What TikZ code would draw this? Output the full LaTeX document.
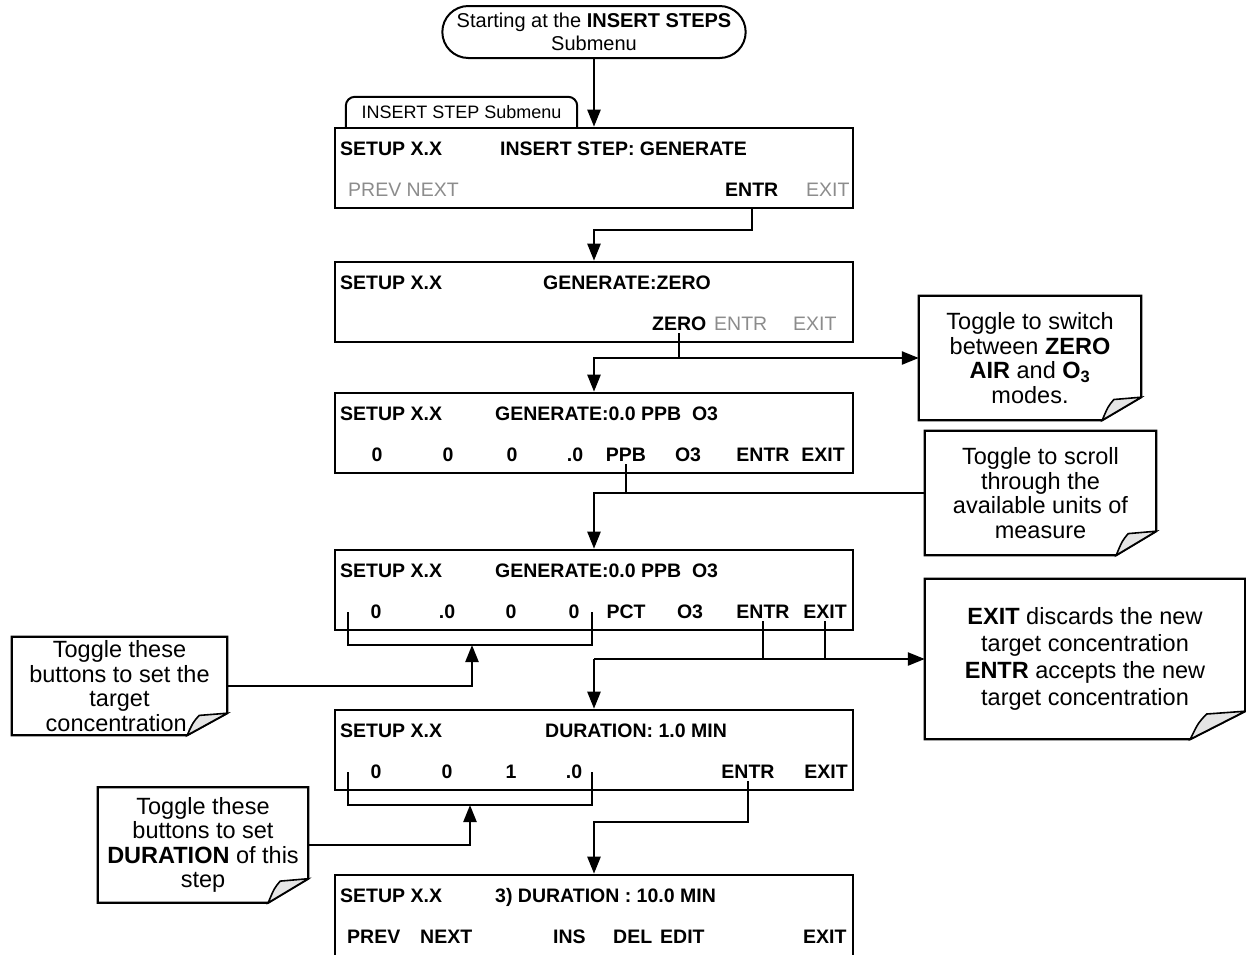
\documentclass[tikz,border=0pt]{standalone}
\usepackage{fontspec}
\setmainfont{Liberation Sans}
\usepackage{tikz}
\usetikzlibrary{arrows.meta,calc,shapes.misc}
\definecolor{keygray}{RGB}{140,140,140}
\newcommand{\boxfont}{\fontsize{19.5}{22}\selectfont}
\newcommand{\notefont}{\fontsize{23.5}{24.5}\selectfont}
\newcommand{\gensetup}{GENERATE:0.0 PPB\ \ O3}

\begin{document}
\begin{tikzpicture}[x=1pt,y=-1pt,
		screen/.style={draw,line width=2.6pt,minimum width=518pt,minimum height=80pt,inner sep=0pt},
		lbl/.style={inner sep=0pt,anchor=base west,font=\boxfont\bfseries},
		key/.style={inner sep=0pt,anchor=base,font=\boxfont\bfseries},
		dim/.style={text=keygray,font=\boxfont},
		note/.style={inner sep=0pt,align=center,font=\notefont},
		conn/.style={line width=2.4pt},
		arr/.style={conn,-{Triangle[length=17pt,width=13pt]}}]
			\fill[white] (0,0) rectangle (1246,954);
			\useasboundingbox (0,0) rectangle (1246,954);
			\node[draw,rounded rectangle,line width=2pt,minimum width=310pt,minimum height=52pt,align=center,font=\fontsize{20}{23}\selectfont] (start) at (594,32) {Starting at the \textbf{INSERT STEPS}\\Submenu};
			\node[font=\fontsize{18}{20}\selectfont,minimum width=231pt,minimum height=31pt,inner sep=0pt] (tab) at (461.5,112.5) {INSERT STEP Submenu};
			\draw[line width=2pt,rounded corners=9pt] (tab.south west) -- (tab.north west) -- (tab.north east) -- (tab.south east);
			\node[screen] (box1) at (594,168) {};
			\node[screen] (box2) at (594,302) {};
			\node[screen] (box3) at (594,433) {};
			\node[screen] (box4) at (594,590) {};
			\node[screen] (box5) at (594,750) {};
			\node[screen,minimum height=84pt] (box6) at (594,917) {};
			\node[lbl] (s1) at (340,155) {SETUP X.X};
			\node[lbl] (t1) at (500,155) {INSERT STEP: GENERATE};
			\node[lbl,dim] (pn1) at (348,196) {PREV NEXT};
			\node[lbl] (entr1) at (725,196) {ENTR};
			\node[lbl,dim] (exit1) at (806,196) {EXIT};
			\node[lbl] (s2) at (340,289) {SETUP X.X};
			\node[lbl] (t2) at (543,289) {GENERATE:ZERO};
			\node[lbl] (zero2) at (652,330) {ZERO};
			\node[lbl,dim] (entr2) at (714,330) {ENTR};
			\node[lbl,dim] (exit2) at (793,330) {EXIT};
			\node[lbl] (s3) at (340,420) {SETUP X.X};
			\node[lbl] (t3) at (495,420) {\gensetup};
			\foreach \x/\t [count=\i] in {377/0,448/0,512/0,575/.0,626/PPB,688/O3,763/ENTR,823/EXIT}
				\node[key] (b3-\i) at (\x,461) {\t};
			\node[lbl] (s4) at (340,577) {SETUP X.X};
			\node[lbl] (t4) at (495,577) {\gensetup};
			\foreach \x/\t [count=\i] in {376/0,447/.0,511/0,574/0,626/PCT,690/O3,763/ENTR,825/EXIT}
				\node[key] (b4-\i) at (\x,618) {\t};
			\node[lbl] (s5) at (340,737) {SETUP X.X};
			\node[lbl] (t5) at (545,737) {DURATION: 1.0 MIN};
			\foreach \x/\t [count=\i] in {376/0,447/0,511/1,574/.0,748/ENTR,826/EXIT}
				\node[key] (b5-\i) at (\x,778) {\t};
			\node[lbl] (s6) at (340,902) {SETUP X.X};
			\node[lbl] (t6) at (495,902) {3) DURATION : 10.0 MIN};
			\foreach \x/\t [count=\i] in {347/PREV,420/NEXT,553/INS,613/DEL,660/EDIT,803/EXIT}
				\node[lbl] (b6-\i) at (\x,943) {\t};
			\node[note,minimum width=222pt,minimum height=124pt] (note1) at (1030,358) {Toggle to switch\\between \textbf{ZERO}\\\textbf{AIR} and \textbf{O\textsubscript{3}}\\modes.};
			\node[note,minimum width=231pt,minimum height=124pt] (note2) at (1040.5,493) {Toggle to scroll\\through the\\available units of\\measure};
			\node[note,minimum width=320pt,minimum height=160pt,font=\fontsize{23.5}{27}\selectfont] (note3) at (1085,659) {\textbf{EXIT} discards the new\\target concentration\\\textbf{ENTR} accepts the new\\target concentration};
			\node[note,minimum width=215pt,minimum height=98pt] (noteA) at (119.5,686) {Toggle these\\buttons to set the\\target\\concentration.};
			\node[note,minimum width=210pt,minimum height=115pt] (noteB) at (203,845) {Toggle these\\buttons to set\\\textbf{DURATION} of this\\step};
			\foreach \n/\fw/\fh in {note1/39/23,note2/40/24,note3/55/28,noteA/40/22,noteB/40/24}{
				\draw[line width=2.2pt] (\n.north west) -- (\n.north east) -- ($(\n.south east)+(0,-\fh)$) -- ($(\n.south east)+(-\fw,0)$) -- (\n.south west) -- cycle;
				\draw[line width=1.6pt,fill=gray!20] ($(\n.south east)+(-\fw,0)$) .. controls ($(\n.south east)+(-0.85*\fw,-0.6*\fh)$) .. ($(\n.south east)+(-0.7*\fw,-0.9*\fh)$) -- ($(\n.south east)+(0,-\fh)$) -- cycle;
			}
			\coordinate (j1) at (594,230);
			\coordinate (j2) at (594,358);
			\coordinate (j3) at (594,493);
			\coordinate (j4) at (594,659);
			\coordinate (j5) at (594,822);
			\coordinate (br4) at (348,612);
			\coordinate (br4e) at (592,612);
			\coordinate (tip4) at (472,645);
			\coordinate (br5) at (348,772);
			\coordinate (br5e) at (592,772);
			\coordinate (tip5) at (470,805);
			\draw[arr] (start.south) -- (box1.north);
			\draw[arr] (entr1.south |- box1.south) |- (j1) -- (box2.north);
			\draw[arr] ([yshift=-3pt]zero2.south) |- (j2) -- (box3.north);
			\draw[arr] (zero2.south |- j2) -- (note1.west);
			\draw[arr] ([yshift=-3pt]b3-5.south) |- (j3) -- (box4.north);
			\draw[conn] (b3-5.south |- j3) -- (note2.west);
			\draw[conn] (br4) -- ++(0,33) -| (br4e);
			\draw[arr] (noteA.east) -| (tip4);
			\draw[conn] ([yshift=-3pt]b4-7.south) -- (b4-7.south |- j4);
			\draw[conn] ([yshift=-3pt]b4-8.south) -- (b4-8.south |- j4);
			\draw[arr] (j4) -- (note3.west);
			\draw[arr] (j4) -- (box5.north);
			\draw[conn] (br5) -- ++(0,33) -| (br5e);
			\draw[arr] (noteB.east) -| (tip5);
			\draw[arr] ([yshift=-3pt]b5-5.south) |- (j5) -- (box6.north);
		\end{tikzpicture}
\end{document}
